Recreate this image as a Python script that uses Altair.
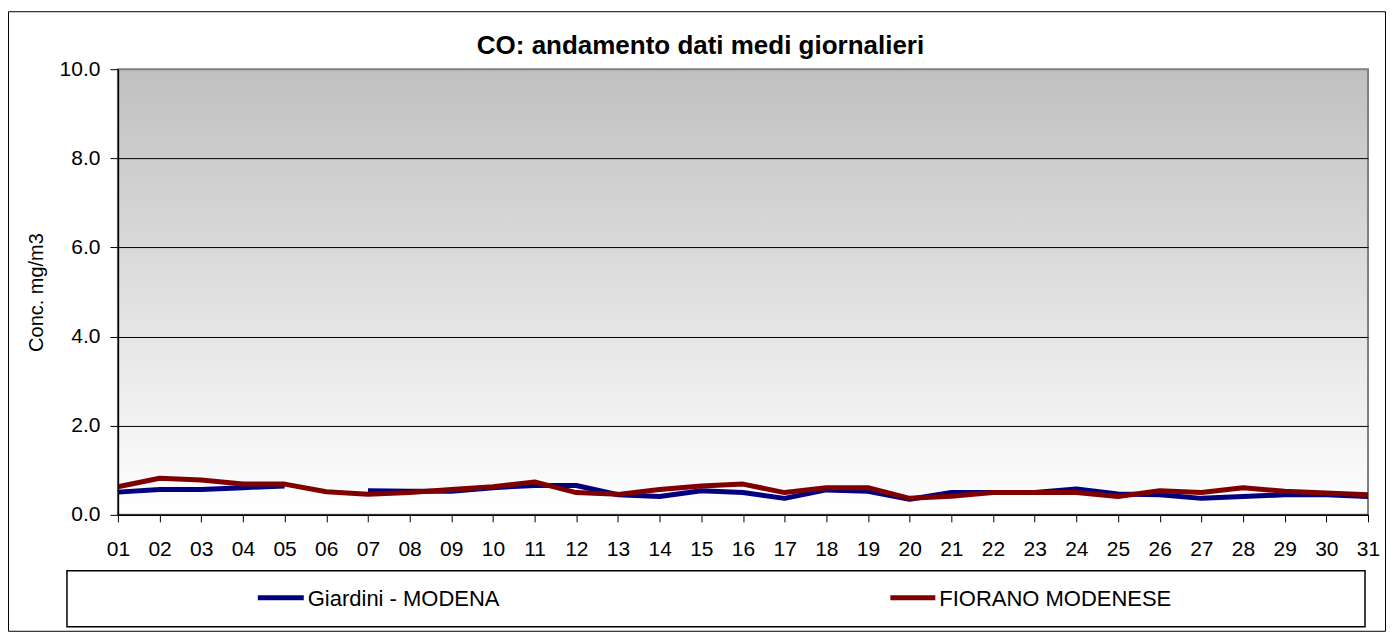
import altair as alt
import pandas as pd

title_text = "CO: andamento dati medi giornalieri"
y_title = "Conc. mg/m3"
days = ["01", "02", "03", "04", "05", "06", "07", "08", "09", "10",
        "11", "12", "13", "14", "15", "16", "17", "18", "19", "20",
        "21", "22", "23", "24", "25", "26", "27", "28", "29", "30", "31"]
series = ["Giardini - MODENA", "FIORANO MODENESE"]
colors = ["#000080", "#800000"]
y_ticks = [0, 2, 4, 6, 8, 10]

giardini = [0.51, 0.57, 0.57, 0.61, 0.65, None, 0.54, 0.53, 0.53, 0.61,
            0.66, 0.66, 0.45, 0.41, 0.54, 0.50, 0.37, 0.56, 0.53, 0.35,
            0.50, 0.50, 0.50, 0.58, 0.47, 0.45, 0.37, 0.41, 0.45, 0.45, 0.41]
fiorano = [0.63, 0.82, 0.78, 0.69, 0.69, 0.52, 0.46, 0.50, 0.57, 0.63,
           0.74, 0.50, 0.46, 0.57, 0.65, 0.69, 0.50, 0.61, 0.61, 0.37,
           0.42, 0.50, 0.50, 0.50, 0.41, 0.54, 0.50, 0.61, 0.53, 0.49, 0.45]

rows = []
for name, vals in zip(series, [giardini, fiorano]):
    for d, v in zip(days, vals):
        rows.append({"giorno": d, "serie": name, "conc": v})
df = pd.DataFrame(rows)
one = pd.DataFrame({"k": [0]})
leg = pd.DataFrame({"serie": series})

W, H = 1251, 446
FONT = "Liberation Sans"
color_scale = alt.Scale(domain=series, range=colors)

x_enc = alt.X(
    "giorno:O",
    sort=days,
    scale=alt.Scale(type="point", padding=0),
    axis=alt.Axis(
        title=None, labelAngle=0, labelFont=FONT, labelFontSize=21,
        labelColor="black", labelBaseline="alphabetic", labelPadding=34,
        tickSize=7, tickColor="black", domainColor="black", domainWidth=1.5,
        grid=False, zindex=1,
    ),
)
y_enc = alt.Y(
    "conc:Q",
    scale=alt.Scale(domain=[0, 10], nice=False, zero=True),
    axis=alt.Axis(
        title=y_title, values=y_ticks, format=".1f",
        labelFont=FONT, labelFontSize=21, labelColor="black", labelPadding=10,
        tickSize=8, tickColor="black", domainColor="black", domainWidth=1.5,
        grid=True,
        gridColor=alt.condition("datum.value >= 10", alt.value("transparent"), alt.value("black")),
        gridWidth=1,
        titleFont=FONT, titleFontSize=20, titleFontWeight="normal", titleColor="black",
        titleAngle=270, titleX=-75, titleY=H / 2, titleAlign="center",
        titleBaseline="alphabetic", zindex=1,
    ),
)

frame = alt.Chart(one).mark_rect(fill="white", stroke="black", strokeWidth=1).encode(
    x=alt.value(-109.5), x2=alt.value(1268.5), y=alt.value(-57.5), y2=alt.value(562.5)
)

bg = alt.Chart(one).mark_rect(
    fill=alt.Gradient(
        gradient="linear", x1=0, x2=0, y1=0, y2=1,
        stops=[alt.GradientStop(color="#c0c0c0", offset=0),
               alt.GradientStop(color="#ffffff", offset=1)],
    ),
    stroke="#808080", strokeWidth=2,
).encode(x=alt.value(0), x2=alt.value(W), y=alt.value(0), y2=alt.value(H))

title = alt.Chart(one).mark_text(
    text=title_text, font=FONT, fontSize=26, fontWeight="bold",
    align="center", baseline="alphabetic", color="black",
).encode(x=alt.value(583), y=alt.value(-15))

line_layers = []
for s in series:
    line_layers.append(
        alt.Chart(df).transform_filter(alt.datum.serie == s).mark_line(
            strokeWidth=5, strokeJoin="round", invalid="break-paths-show-domains"
        ).encode(
            x=x_enc, y=y_enc,
            color=alt.Color("serie:N", scale=color_scale, legend=None),
        )
    )

legend_box = alt.Chart(one).mark_rect(fill="white", stroke="black", strokeWidth=1.5).encode(
    x=alt.value(-51), x2=alt.value(1248), y=alt.value(502), y2=alt.value(558)
)

leg_pos = [(140, 186, 190), (773, 818, 822)]
leg_layers = []
for s, (a, b, t) in zip(series, leg_pos):
    base = alt.Chart(leg).transform_filter(alt.datum.serie == s)
    leg_layers.append(
        base.mark_rule(strokeWidth=5).encode(
            x=alt.value(a), x2=alt.value(b), y=alt.value(529),
            color=alt.Color("serie:N", scale=color_scale, legend=None),
        )
    )
    leg_layers.append(
        base.mark_text(font=FONT, fontSize=22, align="left", baseline="middle", color="black").encode(
            x=alt.value(t), y=alt.value(530), text="serie:N"
        )
    )

chart = alt.layer(frame, bg, *line_layers, title, legend_box, *leg_layers).properties(
    width=W, height=H,
    padding={"left": 110, "top": 61, "right": 20, "bottom": 119},
    autosize=alt.AutoSizeParams(type="none"),
    background="white",
).configure_view(stroke=None)

chart.save("out.html", embed_options={"renderer": "svg", "actions": False})
